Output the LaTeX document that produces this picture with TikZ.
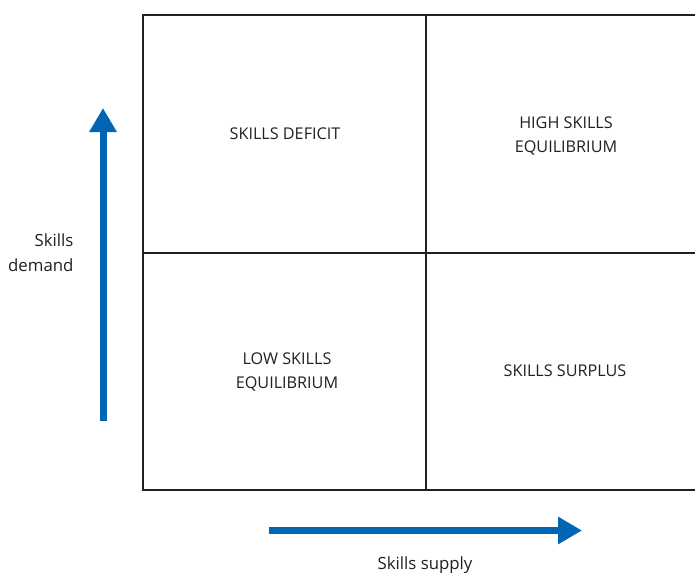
\documentclass[tikz,border=0pt]{standalone}
\usepackage{fontspec}
\setmainfont{Open Sans}
\usepackage{xcolor}
\usetikzlibrary{arrows.meta,positioning}
\definecolor{axisblue}{RGB}{0,102,179}
\definecolor{inkgray}{RGB}{35,31,32}

\begin{document}
\begin{tikzpicture}[x=1pt,y=-1pt,
font=\fontsize{16.2}{24}\selectfont,
grid/.style={draw=inkgray,line width=1.8pt},
quad/.style={align=center,text=inkgray},
axis/.style={draw=axisblue,line width=7pt,-{Triangle[length=24pt,width=26pt]}},
axislabel/.style={text=inkgray,font=\fontsize{16.8}{25}\selectfont}]
\useasboundingbox (0,0) rectangle (695,573);
% grid corners
\coordinate (tl) at (143,15);
\coordinate (tm) at (426,15);
\coordinate (tr) at (696,15);
\coordinate (ml) at (143,253);
\coordinate (mr) at (696,253);
\coordinate (bl) at (143,490);
\coordinate (bm) at (426,490);
\coordinate (br) at (696,490);
\draw[grid] (tr) -- (tl) -- (bl) -- (br);
\draw[grid] (ml) -- (mr);
\draw[grid] (tm) -- (bm);
% quadrants
\node[quad] (deficit) at (285,134) {SKILLS DEFICIT};
\node[quad] (highsk) at (566,136) {HIGH SKILLS\\EQUILIBRIUM};
\node[quad] (lowsk) at (287,371.5) {LOW SKILLS\\EQUILIBRIUM};
\node[quad] (surplus) at (565,371) {SKILLS SURPLUS};
% axes
\coordinate (dstart) at (103,421);
\coordinate (dend) at (103,108);
\coordinate (sstart) at (269,530.5);
\coordinate (send) at (582,530.5);
\draw[axis] (dstart) -- (dend);
\draw[axis] (sstart) -- (send);
\node[axislabel,align=right,anchor=east] (demand) at (77,253) {Skills\\demand};
\node[axislabel] (supply) at (425,565) {Skills supply};
\end{tikzpicture}
\end{document}
